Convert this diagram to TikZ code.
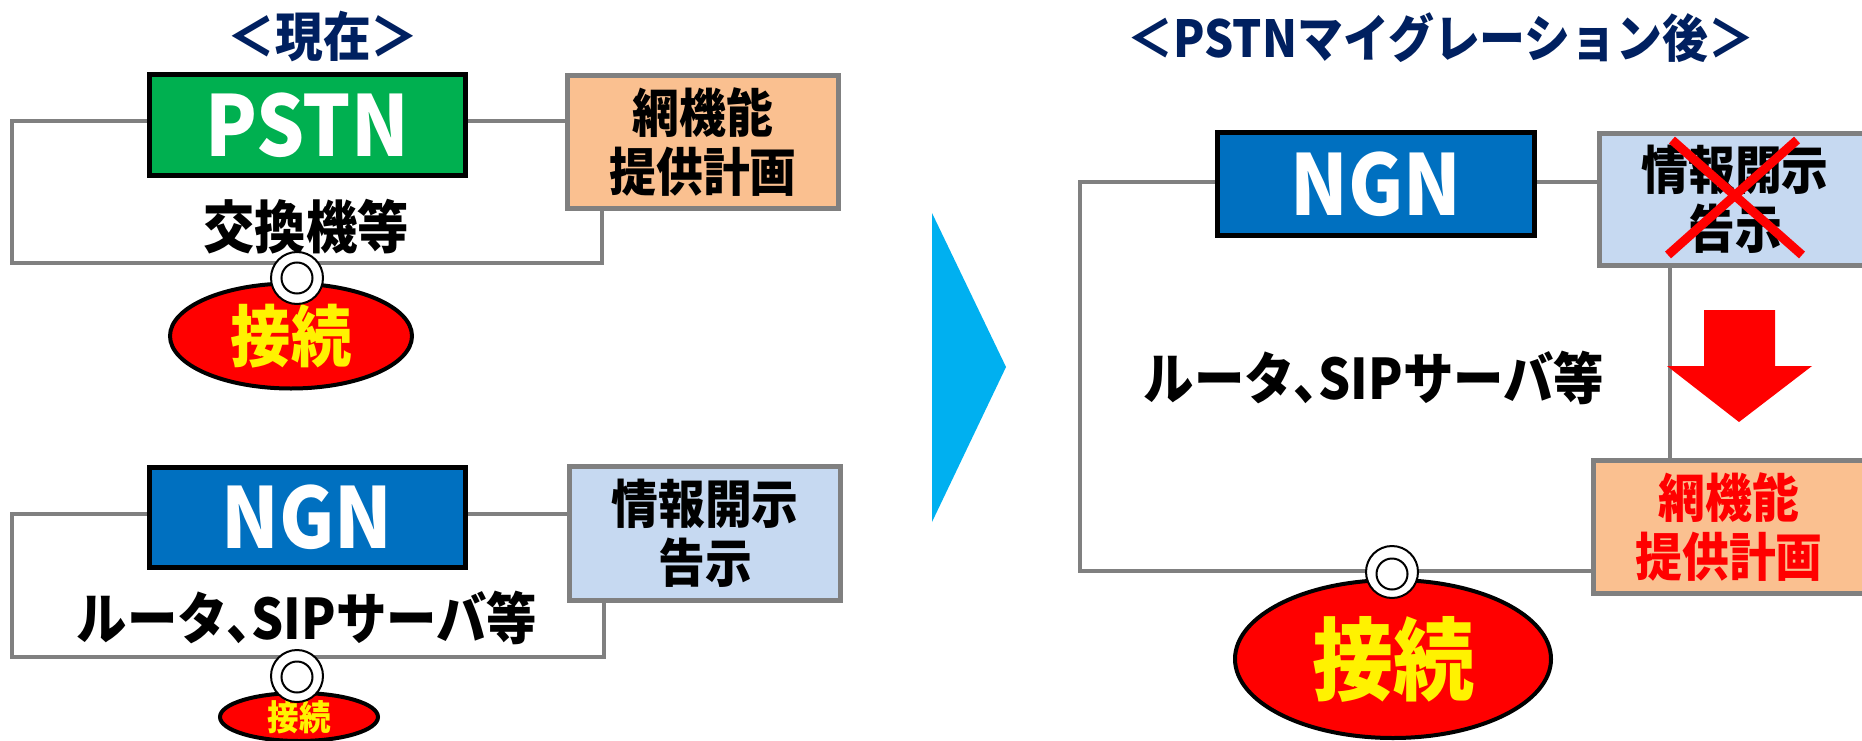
\documentclass[tikz,border=0pt]{standalone}
\usepackage{fontspec}
\setmainfont{Noto Sans CJK JP}[BoldFont={Noto Sans CJK JP Black}, BoldFeatures={FakeStretch=0.9}]
\usetikzlibrary{backgrounds,shapes.geometric}
\definecolor{navy}{HTML}{002060}
\definecolor{pgreen}{HTML}{00B050}
\definecolor{nblue}{HTML}{0070C0}
\definecolor{peach}{HTML}{FAC090}
\definecolor{lblue}{HTML}{C6D9F1}
\definecolor{boxgray}{HTML}{808080}
\definecolor{cyanarrow}{HTML}{00B0F0}
\newcommand{\tenten}{、\kern-0.45em}
\tikzset{
  sysbox/.style={draw=black, line width=5pt, minimum width=316pt, minimum height=100pt, inner sep=0pt, text=white, font=\bfseries\fontsize{84}{84}\selectfont},
  docbox/.style={draw=boxgray, line width=5pt, minimum width=271pt, minimum height=133pt, inner sep=0pt, align=center, font=\bfseries\fontsize{52}{59}\selectfont},
  loopline/.style={draw=boxgray, line width=4pt},
  lbl/.style={inner sep=0pt, font=\bfseries\fontsize{56}{56}\selectfont},
  ttl/.style={inner sep=0pt, text=navy, font=\bfseries\fontsize{51}{51}\selectfont},
  conn/.style={ellipse, draw=black, line width=4pt, fill=red, text=yellow, inner sep=0pt},
  ringo/.style={circle, draw=black, line width=2pt, fill=white, minimum size=52pt, inner sep=0pt},
  ringi/.style={circle, draw=black, line width=2pt, minimum size=31pt, inner sep=0pt},
}
\begin{document}
\begin{tikzpicture}[x=1pt,y=-1pt]
\useasboundingbox (0,0) rectangle (1862,741);
\clip (0,0) rectangle (1862,741);

% titles
\node[ttl, font=\bfseries\fontsize{53}{53}\selectfont] (t1) at (323,37) {＜現在＞};
\node[ttl] (t2) at (1441,38) {＜PSTNマイグレーション後＞};

% ---------- left top ----------
\node[sysbox, fill=pgreen] (pstn) at (307,125) {PSTN};
\node[docbox, fill=peach] (netA) at (703,142) {網機能\\提供計画};
\node[lbl, font=\bfseries\fontsize{57}{57}\selectfont] (kokan) at (306,227) {交換機等};
\node[conn, minimum width=242pt, minimum height=105pt, font=\bfseries\fontsize{67}{67}\selectfont] (c1) at (291,336) {接続};
\node[ringo] (r1o) at (297,278) {};
\node[ringi] (r1i) at (297,278) {};

% ---------- left bottom ----------
\node[sysbox, fill=nblue] (ngnA) at (307,517) {NGN};
\node[docbox, fill=lblue, minimum height=134pt] (infoA) at (705,533) {情報開示\\告示};
\node[lbl] (routerA) at (307,618) {ルータ\tenten SIPサーバ等};
\node[conn, minimum width=158pt, minimum height=48pt, font=\bfseries\fontsize{35}{35}\selectfont] (c2) at (299,717) {接続};
\node[ringo] (r2o) at (297,676) {};
\node[ringi] (r2i) at (297,677) {};

% ---------- middle arrow ----------
\fill[cyanarrow] (932,213) -- (1006,367) -- (932,522) -- cycle;

% ---------- right ----------
\node[sysbox, fill=nblue, minimum width=317pt, minimum height=102pt] (ngnB) at (1376,184) {NGN};
\node[docbox, fill=lblue, minimum height=132pt] (infoB) at (1735,199.5) {情報開示\\告示};
\node[docbox, fill=peach, text=red] (netB) at (1729,527) {網機能\\提供計画};
\node[lbl] (routerB) at (1374,378) {ルータ\tenten SIPサーバ等};
\node[conn, minimum width=316pt, minimum height=158pt, font=\bfseries\fontsize{90}{90}\selectfont] (c3) at (1393,659) {接続};
\node[ringo] (r3o) at (1392,572) {};
\node[ringi] (r3i) at (1392,574) {};

% red cross over info box
\draw[red, line width=9pt] (1672,140) -- (1802,255);
\draw[red, line width=9pt] (1797,140) -- (1668,255);

% red down arrow
\fill[red] (1704,310) -- (1775,310) -- (1775,366) -- (1812,366) -- (1739,422) -- (1667,366) -- (1704,366) -- cycle;

% connectors on background
\begin{scope}[on background layer]
\fill[white] (0,0) rectangle (1862,741);
% left top
\draw[loopline] (pstn.east |- 0,121) -- (netA.west |- 0,121);
\draw[loopline] (pstn.west |- 0,121) -| (12,263) -| (netA.south -| 602,0);
% left bottom
\draw[loopline] (ngnA.east |- 0,514) -- (infoA.west |- 0,514);
\draw[loopline] (ngnA.west |- 0,514) -| (12,657) -| (infoA.south -| 604,0);
% right
\draw[loopline] (ngnB.east |- 0,182) -- (infoB.west |- 0,182);
\draw[loopline] (ngnB.west |- 0,182) -| (1080,571) -- (netB.west |- 0,571);
\draw[loopline] (infoB.south -| 1670,0) -- (netB.north -| 1670,0);
\end{scope}
\end{tikzpicture}
\end{document}
